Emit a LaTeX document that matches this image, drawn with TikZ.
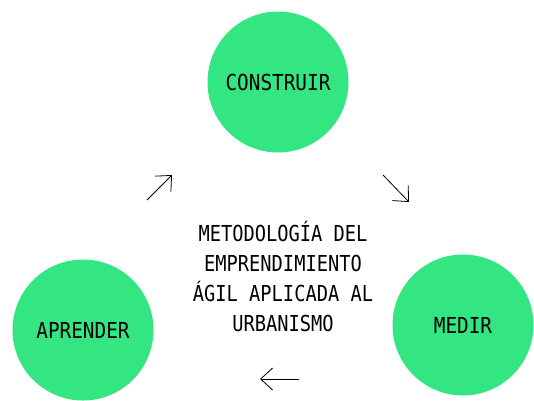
\documentclass[tikz,border=0pt]{standalone}
\usepackage{fontspec}
\setmonofont{DejaVu Sans Mono}[FakeStretch=0.85]
\newfontfamily\fasefont{DejaVu Sans Mono}[FakeStretch=0.88]
\usetikzlibrary{arrows.meta}
\definecolor{fase}{RGB}{51,230,129}
\begin{document}
\begin{tikzpicture}[x=1pt,y=-1pt,
  fase/.style={circle,fill=fase,inner sep=0pt,minimum size=141pt,
    font=\fasefont\fontsize{22}{26}\selectfont},
  titulo/.style={align=center,font=\ttfamily\fontsize{22}{30}\selectfont},
  flecha/.style={-{Straight Barb[length=12pt,width=22pt]},line width=0.8pt}]
  \useasboundingbox (0,0) rectangle (534,400);
  \node[fase] (construir) at (278,82) {CONSTRUIR};
  \node[fase] (medir) at (463,325) {MEDIR};
  \node[fase] (aprender) at (83,330) {APRENDER};
  \node[titulo] (metodo) at (283,276) {METODOLOGÍA DEL\\EMPRENDIMIENTO\\ÁGIL APLICADA AL\\URBANISMO};
  % flechas del ciclo
  \coordinate (a1) at (147,200); \coordinate (b1) at (172,175);
  \coordinate (a2) at (383,175); \coordinate (b2) at (409,202);
  \coordinate (a3) at (299,379); \coordinate (b3) at (260,379);
  \draw[flecha] (a1) -- (b1);
  \draw[flecha] (a2) -- (b2);
  \draw[flecha] (a3) -- (b3);
\end{tikzpicture}
\end{document}
